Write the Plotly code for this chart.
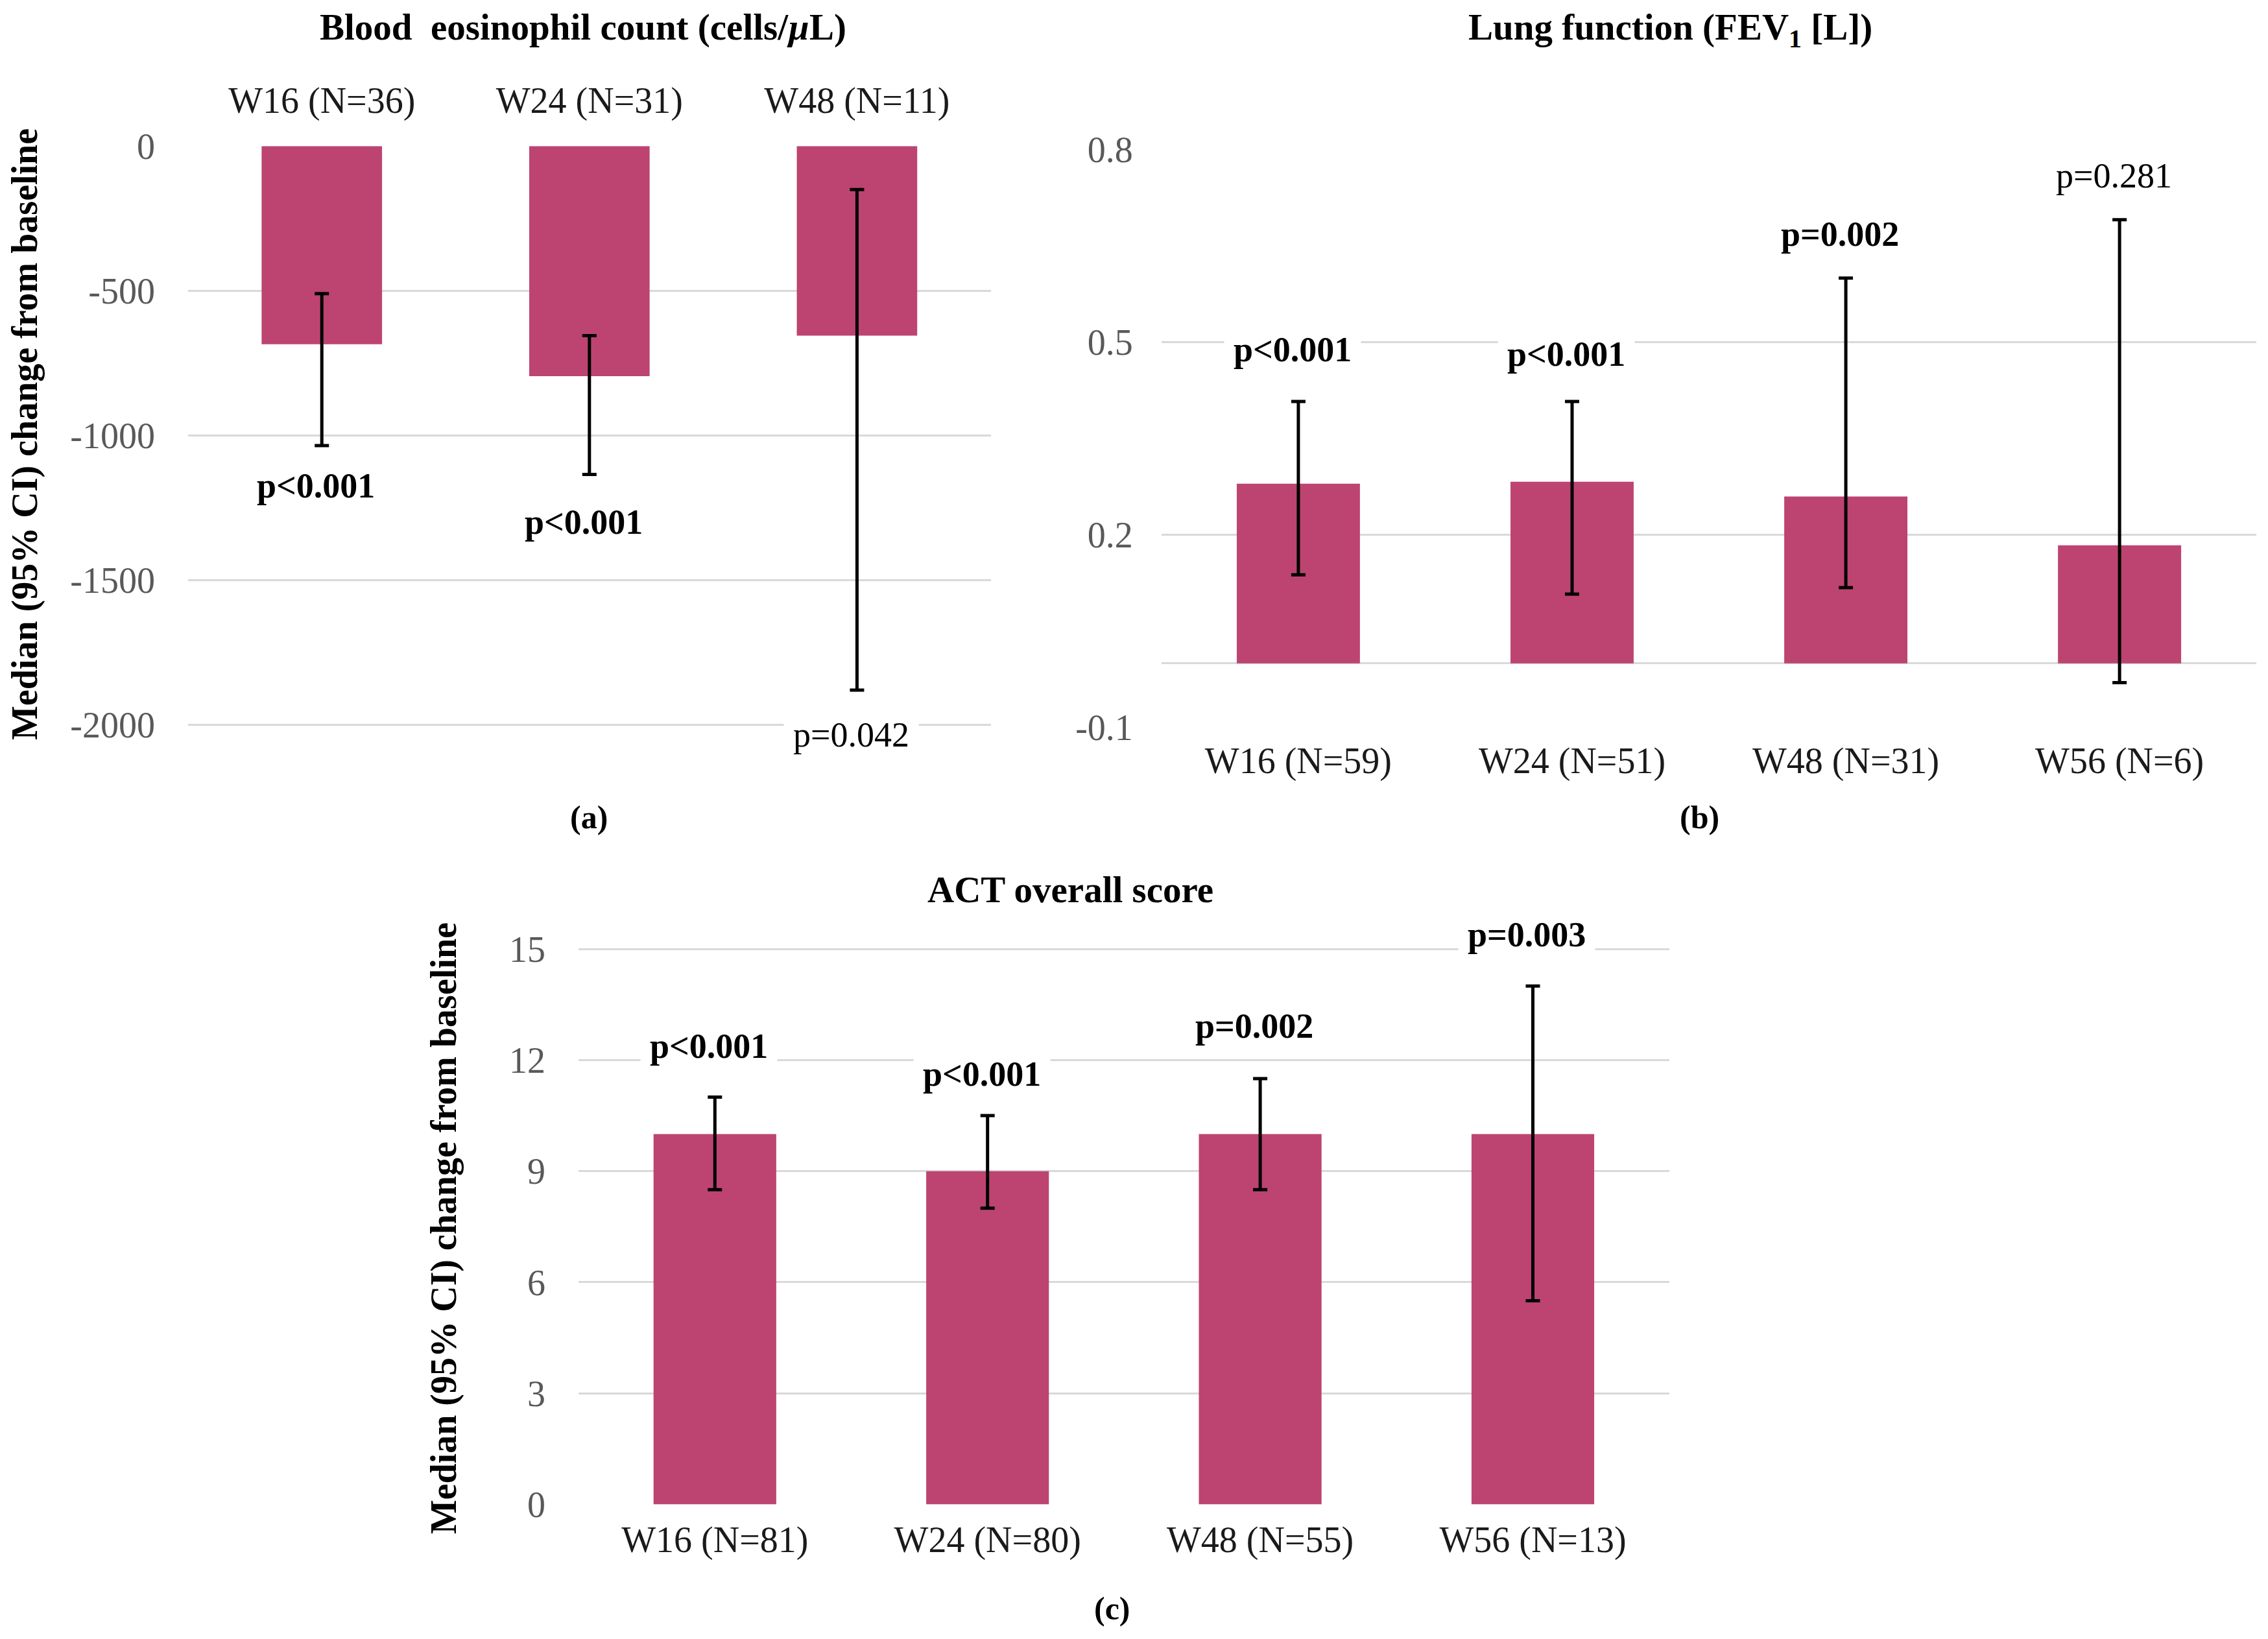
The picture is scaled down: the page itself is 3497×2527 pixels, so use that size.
import plotly.graph_objects as go

# ---------------- data ----------------
cats_a = ["W16 (N=36)", "W24 (N=31)", "W48 (N=11)"]
med_a = [-685, -795, -655]
lo_a = [-1035, -1135, -1880]
hi_a = [-510, -655, -150]
p_a = ["p<0.001", "p<0.001", "p=0.042"]
p_a_bold = [True, True, False]
p_a_pos = [-1175, -1300, -2035]
yticks_a = [0, -500, -1000, -1500, -2000]
yticklabels_a = ["0", "-500", "-1000", "-1500", "-2000"]

cats_b = ["W16 (N=59)", "W24 (N=51)", "W48 (N=31)", "W56 (N=6)"]
med_b = [0.280, 0.283, 0.260, 0.184]
lo_b = [0.138, 0.108, 0.118, -0.030]
hi_b = [0.408, 0.408, 0.600, 0.691]
p_b = ["p<0.001", "p<0.001", "p=0.002", "p=0.281"]
p_b_bold = [True, True, True, False]
p_b_pos = [0.489, 0.482, 0.669, 0.759]
yticks_b = [-0.1, 0.2, 0.5, 0.8]
yticklabels_b = ["-0.1", "0.2", "0.5", "0.8"]

cats_c = ["W16 (N=81)", "W24 (N=80)", "W48 (N=55)", "W56 (N=13)"]
med_c = [10, 9, 10, 10]
lo_c = [8.5, 8.0, 8.5, 5.5]
hi_c = [11.0, 10.5, 11.5, 14.0]
p_c = ["p<0.001", "p<0.001", "p=0.002", "p=0.003"]
p_c_bold = [True, True, True, True]
p_c_pos = [12.38, 11.63, 12.92, 15.39]
yticks_c = [0, 3, 6, 9, 12, 15]
yticklabels_c = ["0", "3", "6", "9", "12", "15"]

title_a = "Blood  eosinophil count (cells/<i>µ</i>L)"
title_b = "Lung function (FEV<sub>1</sub> [L])"
title_c = "ACT overall score"
ylab = "Median (95% CI) change from baseline"

# ---------------- style ----------------
W, H = 3497, 2527
FONT = "Liberation Serif"
BAR = "#BD4470"
GRID = "#D9D9D9"
TICKGRAY = "#595959"
TXT = "#1a1a1a"
OFF = 8  # default page body margin in the browser

fig = go.Figure()


def add_panel(cats, med, lo, hi, xa, ya):
    fig.add_trace(go.Bar(
        x=cats, y=med, width=0.45, marker=dict(color=BAR, line=dict(width=0)),
        xaxis=xa, yaxis=ya, showlegend=False, hoverinfo="skip",
        error_y=dict(type="data", symmetric=False,
                     array=[h - m for h, m in zip(hi, med)],
                     arrayminus=[m - l for m, l in zip(med, lo)],
                     color="black", thickness=5, width=11),
    ))


add_panel(cats_a, med_a, lo_a, hi_a, "x", "y")
add_panel(cats_b, med_b, lo_b, hi_b, "x2", "y2")
add_panel(cats_c, med_c, lo_c, hi_c, "x3", "y3")

SX = W / 1568.0
SY = H / 1133.0


def fx(px):
    return (px * SX - OFF) / W


def fy(py):
    return 1 - (py * SY - OFF) / H


xcommon = dict(type="category", showgrid=False, showline=False, zeroline=False,
               ticks="", automargin=False,
               tickfont=dict(family=FONT, size=56, color=TXT))
ycommon = dict(showgrid=True, gridcolor=GRID, gridwidth=2.5, showline=False,
               ticks="", automargin=False,
               tickfont=dict(family=FONT, size=56, color=TICKGRAY))

fig.update_layout(
    width=W, height=H, margin=dict(l=0, r=0, t=0, b=0, autoexpand=False),
    paper_bgcolor="white", plot_bgcolor="white",
    xaxis=dict(**xcommon, domain=[fx(130), fx(685)], anchor="y", side="top",
               range=[-0.5, 2.5], ticklabelstandoff=39),
    # 0 at y=101, -2000 at y=501; range extended to -2150 so the lowest p-label stays drawn
    yaxis=dict(**ycommon, domain=[fy(531), fy(101)], anchor="x",
               range=[-2150, 0], tickvals=yticks_a, ticktext=yticklabels_a,
               zeroline=False, ticklabelstandoff=50),
    xaxis2=dict(**xcommon, domain=[fx(803), fx(1560)], anchor="y2",
                range=[-0.5, 3.5], ticklabelstandoff=13),
    yaxis2=dict(**ycommon, domain=[fy(503), fy(103.5)], anchor="x2",
                range=[-0.1, 0.8], tickvals=yticks_b, ticktext=yticklabels_b,
                zeroline=True, zerolinecolor=GRID, zerolinewidth=2.5,
                ticklabelstandoff=43),
    xaxis3=dict(**xcommon, domain=[fx(400), fx(1154)], anchor="y3",
                range=[-0.5, 3.5], ticklabelstandoff=16),
    yaxis3=dict(**ycommon, domain=[fy(1040), fy(656 - 128.0 / 5)], anchor="x3",
                range=[0, 16], tickvals=yticks_c, ticktext=yticklabels_c,
                zeroline=False, ticklabelstandoff=50),
)

ann = []


def ptext(t, bold):
    return f"<b>{t}</b>" if bold else t


for cats, ps, bolds, pos, xr, yr in [
    (cats_a, p_a, p_a_bold, p_a_pos, "x", "y"),
    (cats_b, p_b, p_b_bold, p_b_pos, "x2", "y2"),
    (cats_c, p_c, p_c_bold, p_c_pos, "x3", "y3"),
]:
    for c, t, b, yv in zip(cats, ps, bolds, pos):
        ann.append(dict(x=c, y=yv, xref=xr, yref=yr, text=ptext(t, b),
                        showarrow=False, bgcolor="white", borderpad=14, xshift=-9,
                        font=dict(family=FONT, size=54, color="black")))

# top titles (boxes start at the top edge of the figure)
for t, x in [(title_a, fx(403)), (title_b, fx(1155))]:
    ann.append(dict(x=x, y=1, xref="paper", yref="paper", text=f"<b>{t}</b>",
                    showarrow=False, xanchor="center", yanchor="top",
                    font=dict(family=FONT, size=57, color="black")))
ann.append(dict(x=fx(740), y=fy(615), xref="paper", yref="paper",
                text=f"<b>{title_c}</b>", showarrow=False, xanchor="center",
                yanchor="middle", font=dict(family=FONT, size=57, color="black")))

# panel letters
for t, x, y in [("(a)", fx(407), fy(565)), ("(b)", fx(1175), fy(565)),
                ("(c)", fx(769), fy(1112))]:
    ann.append(dict(x=x, y=y, xref="paper", yref="paper", text=f"<b>{t}</b>",
                    showarrow=False, xanchor="center", yanchor="middle",
                    font=dict(family=FONT, size=50, color="black")))

# y-axis titles
for x, y in [(fx(17), fy(300)), (fx(307), fy(849))]:
    ann.append(dict(x=x, y=y, xref="paper", yref="paper", text=f"<b>{ylab}</b>",
                    showarrow=False, textangle=-90, xanchor="center", yanchor="middle",
                    font=dict(family=FONT, size=56, color="black")))

fig.update_layout(annotations=ann)

fig.write_html("out.html")
